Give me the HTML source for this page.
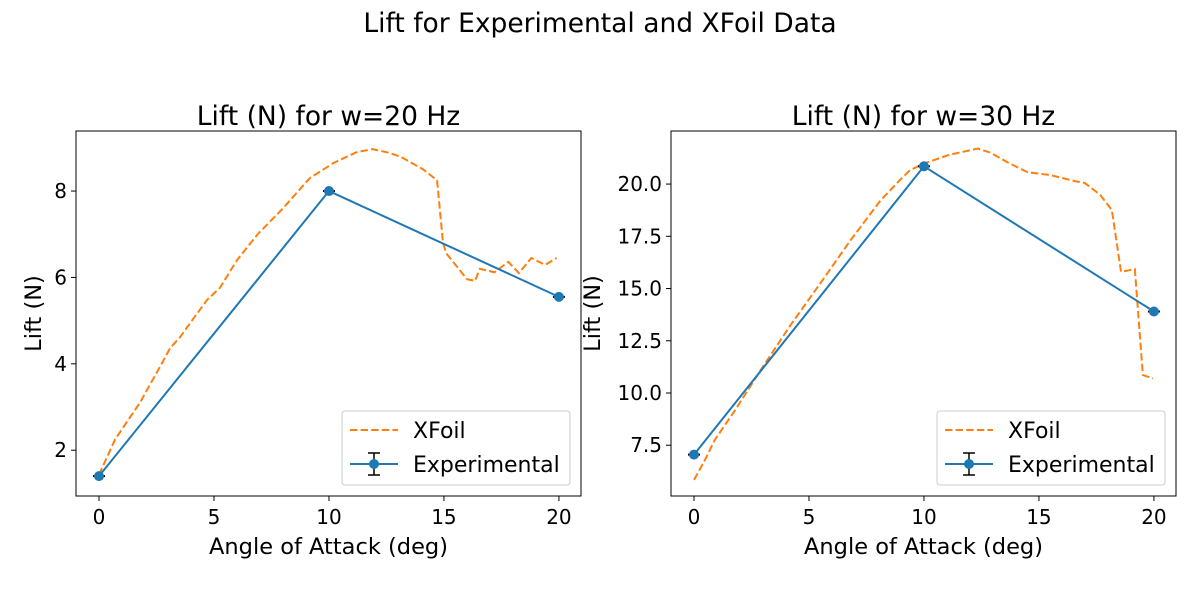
<!DOCTYPE html>
<html><head><meta charset="utf-8"><style>
body{margin:0;background:#fff;}
svg{display:block;font-family:"DejaVu Sans","Liberation Sans",sans-serif;}
</style></head><body>
<svg id="chart" width="1200" height="600">
<text x="600" y="32" text-anchor="middle" font-size="26.5">Lift for Experimental and XFoil Data</text>
</svg>
<script>
const xfoilAngleL=[0,0.7,1.78,2.65,3.1,3.5,3.96,4.7,5.26,6.0,6.9,8,8.7,9.17,10.2,11.2,11.9,12.5,13.1,14.1,14.7,14.96,15.1,16,16.35,16.56,17.2,17.8,18.26,18.8,19.4,19.9];
const xfoilLiftL=[1.43,2.25,3.1,3.93,4.37,4.6,4.94,5.48,5.76,6.4,7.0,7.6,8.02,8.3,8.65,8.9,8.97,8.9,8.8,8.5,8.25,6.8,6.56,5.96,5.92,6.2,6.12,6.36,6.1,6.45,6.29,6.45];
const xfoilAngleR=[0,0.48,0.9,1.8,2.9,4.2,5.5,6.8,8.1,8.96,9.4,10.04,11.1,12.35,12.9,13.7,14.5,15.5,16.56,17,17.65,18.17,18.57,19.17,19.52,19.96];
const xfoilLiftR=[5.84,6.8,7.75,9.2,11.1,13.25,15.26,17.3,19.2,20.2,20.67,21.0,21.4,21.7,21.5,21.0,20.57,20.43,20.14,20.05,19.5,18.76,15.8,15.93,10.86,10.7];
const expAngle=[0,10,20];
const expLiftL=[1.4,8.0,5.55];
const expLiftR=[7.05,20.85,13.9];
const xTicks=[0,5,10,15,20];
const yTicksL=[2,4,6,8];
const yTicksR=[7.5,10,12.5,15,17.5,20];
const NS="http://www.w3.org/2000/svg";
const svg=document.getElementById('chart');
function mk(t,a,p){const e=document.createElementNS(NS,t);for(const k in a)e.setAttribute(k,a[k]);(p||svg).appendChild(e);return e;}
function panel(o){
  const g=mk('g',{});
  
  
  const X=a=>o.x0+(a-o.xmin)/(o.xmax-o.xmin)*(o.x1-o.x0);
  const Y=v=>o.y1-(v-o.ymin)/(o.ymax-o.ymin)*(o.y1-o.y0);
  const t=mk('text',{x:(o.x0+o.x1)/2,y:o.y0-6,'text-anchor':'middle','font-size':26.5},g);t.textContent=o.title;
  
  const xp=mk('polyline',{points:o.xa.map((a,i)=>X(a)+','+Y(o.xv[i])).join(' '),fill:'none',stroke:'#ff7f0e','stroke-width':2,'stroke-dasharray':'7.4,3.2'},g);
  
  const ep=mk('polyline',{points:expAngle.map((a,i)=>X(a)+','+Y(o.ev[i])).join(' '),fill:'none',stroke:'#1f77b4','stroke-width':2},g);
  
  expAngle.forEach((a,i)=>{
    const cx=X(a),cy=Y(o.ev[i]);
    const eb=mk('line',{x1:cx-6,x2:cx+6,y1:cy,y2:cy,stroke:'#000','stroke-width':2},g);
    
    const c=mk('circle',{cx:cx,cy:cy,r:5,fill:'#1f77b4'},g);
    
  });
  const fr=mk('rect',{x:o.x0,y:o.y0,width:o.x1-o.x0,height:o.y1-o.y0,fill:'none',stroke:'#000','stroke-width':1},g);
  
  xTicks.forEach(v=>{const x=X(v);mk('line',{x1:x,x2:x,y1:o.y1,y2:o.y1+5,stroke:'#000'},g);
    const tt=mk('text',{x:x,y:o.y1+28,'text-anchor':'middle','font-size':20},g);tt.textContent=v;
    });
  o.yt.forEach(v=>{const y=Y(v);mk('line',{x1:o.x0-5,x2:o.x0,y1:y,y2:y,stroke:'#000'},g);
    const tt=mk('text',{x:o.x0-9,y:y+7,'text-anchor':'end','font-size':20},g);tt.textContent=o.fmt(v);
    });
  const xl=mk('text',{x:(o.x0+o.x1)/2,y:o.y1+58,'text-anchor':'middle','font-size':22.5},g);xl.textContent='Angle of Attack (deg)';
  
  const yl=mk('text',{x:0,y:0,'text-anchor':'middle','font-size':22.5,transform:`translate(${o.ylx},${(o.y0+o.y1)/2}) rotate(-90)`},g);yl.textContent='Lift (N)';
  
  const lx=o.x1-239,ly=o.y1-85;
  const lg=mk('g',{},g);
  mk('rect',{x:lx,y:ly,width:228,height:74,rx:3,fill:'#fff','fill-opacity':0.8,stroke:'#ccc'},lg);
  mk('line',{x1:lx+8,x2:lx+56,y1:ly+19,y2:ly+19,stroke:'#ff7f0e','stroke-width':2,'stroke-dasharray':'7.4,3.2'},lg);
  const l1=mk('text',{x:lx+71,y:ly+27,'font-size':22},lg);l1.textContent='XFoil';
  mk('line',{x1:lx+8,x2:lx+56,y1:ly+53,y2:ly+53,stroke:'#1f77b4','stroke-width':2},lg);
  mk('line',{x1:lx+32,x2:lx+32,y1:ly+42,y2:ly+64,stroke:'#000','stroke-width':1.5},lg);
  mk('line',{x1:lx+26,x2:lx+38,y1:ly+42,y2:ly+42,stroke:'#000','stroke-width':1.5},lg);
  mk('line',{x1:lx+26,x2:lx+38,y1:ly+64,y2:ly+64,stroke:'#000','stroke-width':1.5},lg);
  mk('circle',{cx:lx+32,cy:ly+53,r:5,fill:'#1f77b4'},lg);
  const l2=mk('text',{x:lx+71,y:ly+61,'font-size':22},lg);l2.textContent='Experimental';
}
panel({name:'panel-20hz',title:'Lift (N) for w=20 Hz',x0:76,x1:581,y0:131,y1:496,xmin:-1,xmax:20.96,ymin:0.94,ymax:9.39,xa:xfoilAngleL,xv:xfoilLiftL,ev:expLiftL,yt:yTicksL,fmt:v=>String(v),ylx:41});
panel({name:'panel-30hz',title:'Lift (N) for w=30 Hz',x0:671,x1:1176,y0:131,y1:496,xmin:-1,xmax:20.96,ymin:5.07,ymax:22.54,xa:xfoilAngleR,xv:xfoilLiftR,ev:expLiftR,yt:yTicksR,fmt:v=>v.toFixed(1),ylx:600});
</script>
</body></html>
